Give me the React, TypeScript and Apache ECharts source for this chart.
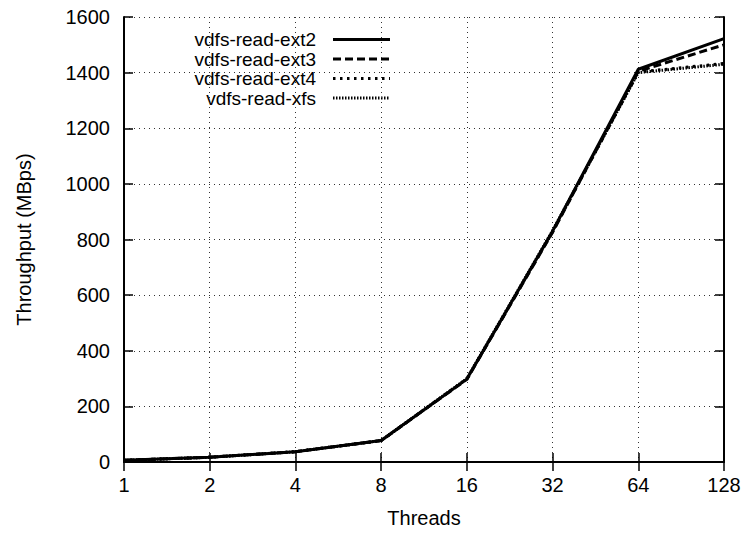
import React, { useEffect, useRef } from "react";
import * as echarts from "echarts";

const threads = ["1", "2", "4", "8", "16", "32", "64", "128"];
const seriesNames = ["vdfs-read-ext2", "vdfs-read-ext3", "vdfs-read-ext4", "vdfs-read-xfs"];
const ext2 = [6, 17, 37, 77, 298, 830, 1412, 1522];
const ext3 = [6, 17, 37, 77, 297, 826, 1405, 1500];
const ext4 = [6, 17, 37, 77, 299, 828, 1402, 1433];
const xfs = [6, 17, 37, 77, 300, 832, 1400, 1430];
const seriesValues = [ext2, ext3, ext4, xfs];
const yTicks = { min: 0, max: 1600, interval: 200 };

const dashes: (number[] | "solid")[] = ["solid", [8, 4], [2.5, 4.5], [1.5, 1.5]];

const FONT = "'Liberation Sans', Arial, Helvetica, sans-serif";

export default function App() {
  const ref = useRef<HTMLDivElement>(null);
  useEffect(() => {
    if (!ref.current) return;
    const chart = echarts.init(ref.current, undefined, { renderer: "svg" });
    const gridLeft = 124, gridTop = 17, gridRight = 24, gridBottom = 71;
    const legendRowY = [39.5, 59, 78.5, 98];
    const graphic: any[] = [];
    seriesNames.forEach((n, i) => {
      graphic.push({
        type: "text",
        x: 316,
        y: legendRowY[i],
        style: {
          text: n,
          fill: "#000",
          fontSize: 19,
          fontFamily: FONT,
          lineHeight: 19,
          textAlign: "right",
          textVerticalAlign: "middle",
        },
      });
      graphic.push({
        type: "line",
        shape: { x1: 333, y1: legendRowY[i], x2: 390, y2: legendRowY[i] },
        style: {
          stroke: "#000",
          lineWidth: 3,
          lineDash: dashes[i] === "solid" ? null : dashes[i],
        },
      });
    });
    const axisLine = { show: true, lineStyle: { color: "#000", width: 2 } };
    const tick = { show: true, inside: true, length: 9, lineStyle: { color: "#000", width: 1.5 } };
    chart.setOption({
      animation: false,
      backgroundColor: "#fff",
      textStyle: { fontFamily: FONT, color: "#000" },
      grid: { left: gridLeft, top: gridTop, right: gridRight, bottom: gridBottom, containLabel: false },
      xAxis: [
        {
          type: "category",
          data: threads,
          boundaryGap: false,
          position: "bottom",
          axisLine,
          axisTick: { ...tick, alignWithLabel: true },
          axisLabel: { color: "#000", fontSize: 20, fontFamily: FONT, margin: 13 },
          splitLine: { show: true, lineStyle: { color: "#333", width: 1, type: [1, 4] } },
          name: "Threads",
          nameLocation: "middle",
          nameGap: 46,
          nameTextStyle: { color: "#000", fontSize: 20, fontFamily: FONT },
        },
        {
          type: "category",
          data: threads,
          boundaryGap: false,
          position: "top",
          axisLine,
          axisTick: tick,
          axisLabel: { show: false },
          splitLine: { show: false },
        },
      ],
      yAxis: [
        {
          type: "value",
          min: yTicks.min,
          max: yTicks.max,
          interval: yTicks.interval,
          position: "left",
          axisLine,
          axisTick: tick,
          axisLabel: {
            color: "#000",
            fontSize: 20,
            fontFamily: FONT,
            margin: 14,
            formatter: (v: number) => String(v),
          },
          splitLine: { show: true, lineStyle: { color: "#333", width: 1, type: [1, 4] } },
          name: "Throughput (MBps)",
          nameLocation: "middle",
          nameGap: 90,
          nameTextStyle: { color: "#000", fontSize: 20, fontFamily: FONT },
        },
        {
          type: "value",
          min: yTicks.min,
          max: yTicks.max,
          interval: yTicks.interval,
          position: "right",
          axisLine,
          axisTick: tick,
          axisLabel: { show: false },
          splitLine: { show: false },
        },
      ],
      series: seriesValues.map((vals, i) => ({
        name: seriesNames[i],
        type: "line",
        data: vals,
        xAxisIndex: 0,
        yAxisIndex: 0,
        symbol: "none",
        z: 10 - i,
        lineStyle: { color: "#000", width: 3, type: dashes[i] },
      })),
      graphic,
    });
    return () => chart.dispose();
  }, []);
  return <div ref={ref} style={{ width: 748, height: 533, position: "absolute", left: 0, top: 0 }} />;
}
